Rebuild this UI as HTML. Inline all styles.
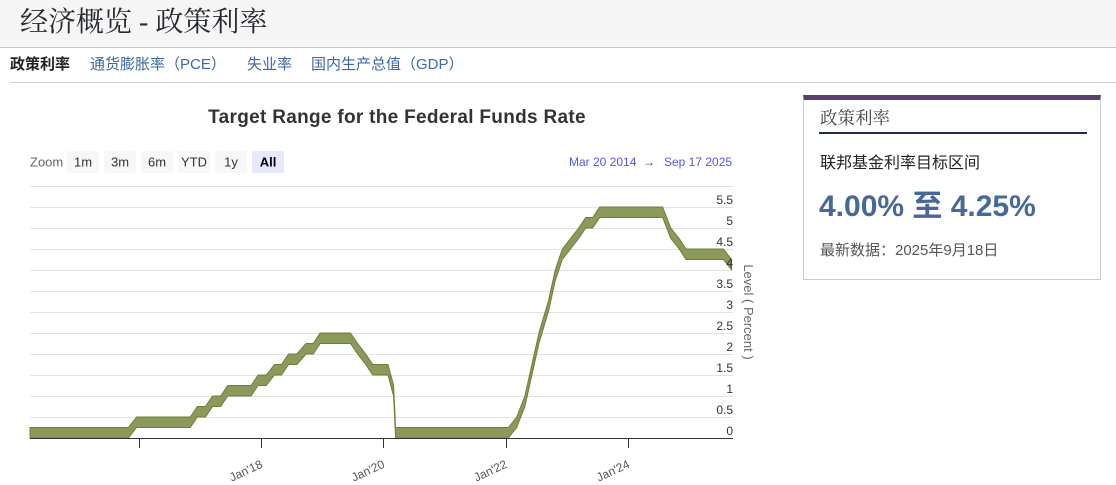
<!DOCTYPE html>
<html><head><meta charset="utf-8">
<style>
html,body{margin:0;padding:0;background:#fff;}
body{width:1116px;height:485px;position:relative;overflow:hidden;font-family:"Liberation Sans","Noto Sans CJK SC",sans-serif;}
.hdr{position:absolute;left:0;top:0;width:1116px;height:47px;background:#f5f5f5;border-bottom:1px solid #c6c6c6;}
.hdr h1{position:absolute;left:20px;top:5px;margin:0;font-family:"Liberation Serif","Noto Serif CJK SC",serif;font-weight:normal;font-size:28px;line-height:36px;color:#262a30;white-space:nowrap;}
.nav{position:absolute;top:55px;font-size:15px;line-height:20px;white-space:nowrap;color:#3c68a3;}
.navline{position:absolute;left:10px;top:82px;width:1106px;height:1px;background:#cfcfcf;}
.panel{position:absolute;left:803px;top:95px;width:298px;height:185px;border:1px solid #c8cdd5;border-top:5px solid #5e3f72;box-sizing:border-box;}
.p1{position:absolute;left:820px;top:106px;font-family:"Liberation Serif","Noto Serif CJK SC",serif;font-size:17.5px;line-height:24px;color:#444;white-space:nowrap;}
.pline{position:absolute;left:819px;top:132px;width:268px;height:2px;background:#1f2d4d;}
.p2{position:absolute;left:820px;top:153px;font-size:16px;line-height:22px;color:#222;white-space:nowrap;}
.p3{position:absolute;left:819px;top:189px;font-size:30px;font-weight:bold;line-height:36px;color:#47699a;white-space:nowrap;}
.p4{position:absolute;left:820px;top:240px;font-size:15px;line-height:22px;color:#555;white-space:nowrap;}
</style></head><body>
<div class="hdr"><h1>经济概览 - 政策利率</h1></div>
<div class="nav" style="left:10px;color:#222;font-weight:bold;">政策利率</div>
<div class="nav" style="left:90px;">通货膨胀率（PCE）</div>
<div class="nav" style="left:247px;">失业率</div>
<div class="nav" style="left:311px;">国内生产总值（GDP）</div>
<div class="navline"></div>

<svg style="position:absolute;left:0;top:0" width="790" height="485" viewBox="0 0 790 485" xmlns="http://www.w3.org/2000/svg">
<text x="397" y="123" text-anchor="middle" font-family="Liberation Sans, sans-serif" font-size="19" font-weight="bold" fill="#333" letter-spacing="0.3">Target Range for the Federal Funds Rate</text>
<g font-family="Liberation Sans, sans-serif" font-size="13">
<text x="30" y="166.5" fill="#666">Zoom</text>
<rect x="67" y="151" width="32" height="22" rx="2" fill="#f7f7f7"/><text x="83" y="166.5" text-anchor="middle" fill="#333">1m</text>
<rect x="104" y="151" width="32" height="22" rx="2" fill="#f7f7f7"/><text x="120" y="166.5" text-anchor="middle" fill="#333">3m</text>
<rect x="141" y="151" width="32" height="22" rx="2" fill="#f7f7f7"/><text x="157" y="166.5" text-anchor="middle" fill="#333">6m</text>
<rect x="178" y="151" width="32" height="22" rx="2" fill="#f7f7f7"/><text x="194" y="166.5" text-anchor="middle" fill="#333">YTD</text>
<rect x="215" y="151" width="32" height="22" rx="2" fill="#f7f7f7"/><text x="231" y="166.5" text-anchor="middle" fill="#333">1y</text>
<rect x="252" y="151" width="32" height="22" rx="2" fill="#e6e8fd"/><text x="268" y="166.5" text-anchor="middle" fill="#000" font-weight="bold">All</text>
</g>
<g font-family="Liberation Sans, sans-serif" font-size="12" fill="#5555e6">
<text x="569" y="166">Mar 20 2014</text>
<text x="649" y="166" text-anchor="middle" fill="#444">→</text>
<text x="664" y="166">Sep 17 2025</text>
</g>
<g stroke="#e3e3e3" stroke-width="1">
<line x1="30" x2="733" y1="417.5" y2="417.5"/><line x1="30" x2="733" y1="396.5" y2="396.5"/>
<line x1="30" x2="733" y1="375.5" y2="375.5"/><line x1="30" x2="733" y1="354.5" y2="354.5"/>
<line x1="30" x2="733" y1="333.5" y2="333.5"/><line x1="30" x2="733" y1="312.5" y2="312.5"/>
<line x1="30" x2="733" y1="291.5" y2="291.5"/><line x1="30" x2="733" y1="270.5" y2="270.5"/>
<line x1="30" x2="733" y1="249.5" y2="249.5"/><line x1="30" x2="733" y1="228.5" y2="228.5"/>
<line x1="30" x2="733" y1="207.5" y2="207.5"/><line x1="30" x2="733" y1="186.5" y2="186.5"/>
</g>
<path d="M30,427.5 L128.4,427.5 L136.6,417 L190.3,417 L197.3,406.5 L205.5,406.5 L212.5,396 L220.7,396 L227.7,385.5 L251.1,385.5 L258.1,375 L266.3,375 L274.5,364.5 L281.5,364.5 L288.6,354 L296.8,354 L306.1,343.5 L313.3,343.5 L320.1,333 L350.5,333 L357.6,343.5 L365.7,354 L372.7,364.5 L388,364.5 L393.6,385.5 L395.6,427.5 L508.4,427.5 L516.7,417 L524.9,396 L531.9,364.5 L538.9,333 L548.3,301.5 L555.3,270 L562.3,249 L570.5,238.5 L578.7,228 L585.7,217.5 L592.7,217.5 L599.7,207 L662.6,207 L670.8,228 L679.2,238.5 L686,249 L723.4,249 L731.6,259.5 L731.6,270 L723.4,259.5 L686,259.5 L679.2,249 L670.8,238.5 L662.6,217.5 L599.7,217.5 L592.7,228 L585.7,228 L578.7,238.5 L570.5,249 L562.3,259.5 L555.3,280.5 L548.3,312 L538.9,343.5 L531.9,375 L524.9,406.5 L516.7,427.5 L508.4,438 L395.6,438 L393.6,396 L388,375 L372.7,375 L365.7,364.5 L357.6,354 L350.5,343.5 L320.1,343.5 L313.3,354 L306.1,354 L296.8,364.5 L288.6,364.5 L281.5,375 L274.5,375 L266.3,385.5 L258.1,385.5 L251.1,396 L227.7,396 L220.7,406.5 L212.5,406.5 L205.5,417 L197.3,417 L190.3,427.5 L136.6,427.5 L128.4,438 L30,438 Z" fill="#8b9a5b" stroke="#6c7f37" stroke-width="1" stroke-linejoin="round"/>
<line x1="30" x2="733" y1="438.5" y2="438.5" stroke="#333" stroke-width="1"/>
<g stroke="#333" stroke-width="1">
<line x1="139.5" x2="139.5" y1="438" y2="448"/><line x1="261.5" x2="261.5" y1="438" y2="448"/>
<line x1="383.5" x2="383.5" y1="438" y2="448"/><line x1="506.5" x2="506.5" y1="438" y2="448"/>
<line x1="628.5" x2="628.5" y1="438" y2="448"/>
</g>
<g font-family="Liberation Sans, sans-serif" font-size="12" fill="#333" text-anchor="end">
<text x="733" y="435">0</text><text x="733" y="414">0.5</text><text x="733" y="393">1</text>
<text x="733" y="372">1.5</text><text x="733" y="351">2</text><text x="733" y="330">2.5</text>
<text x="733" y="309">3</text><text x="733" y="288">3.5</text><text x="733" y="267">4</text>
<text x="733" y="246">4.5</text><text x="733" y="225">5</text><text x="733" y="204">5.5</text>
</g>
<text transform="translate(744,312) rotate(90)" text-anchor="middle" font-family="Liberation Sans, sans-serif" font-size="13" fill="#666">Level ( Percent )</text>
<g font-family="Liberation Sans, sans-serif" font-size="12" fill="#555" text-anchor="end">
<text transform="translate(263.5,467) rotate(-25)">Jan'18</text>
<text transform="translate(385.5,467) rotate(-25)">Jan'20</text>
<text transform="translate(508,467) rotate(-25)">Jan'22</text>
<text transform="translate(630.5,467) rotate(-25)">Jan'24</text>
</g>
</svg>

<div class="panel"></div>
<div class="p1">政策利率</div>
<div class="pline"></div>
<div class="p2">联邦基金利率目标区间</div>
<div class="p3">4.00% 至 4.25%</div>
<div class="p4">最新数据：2025年9月18日</div>
</body></html>
